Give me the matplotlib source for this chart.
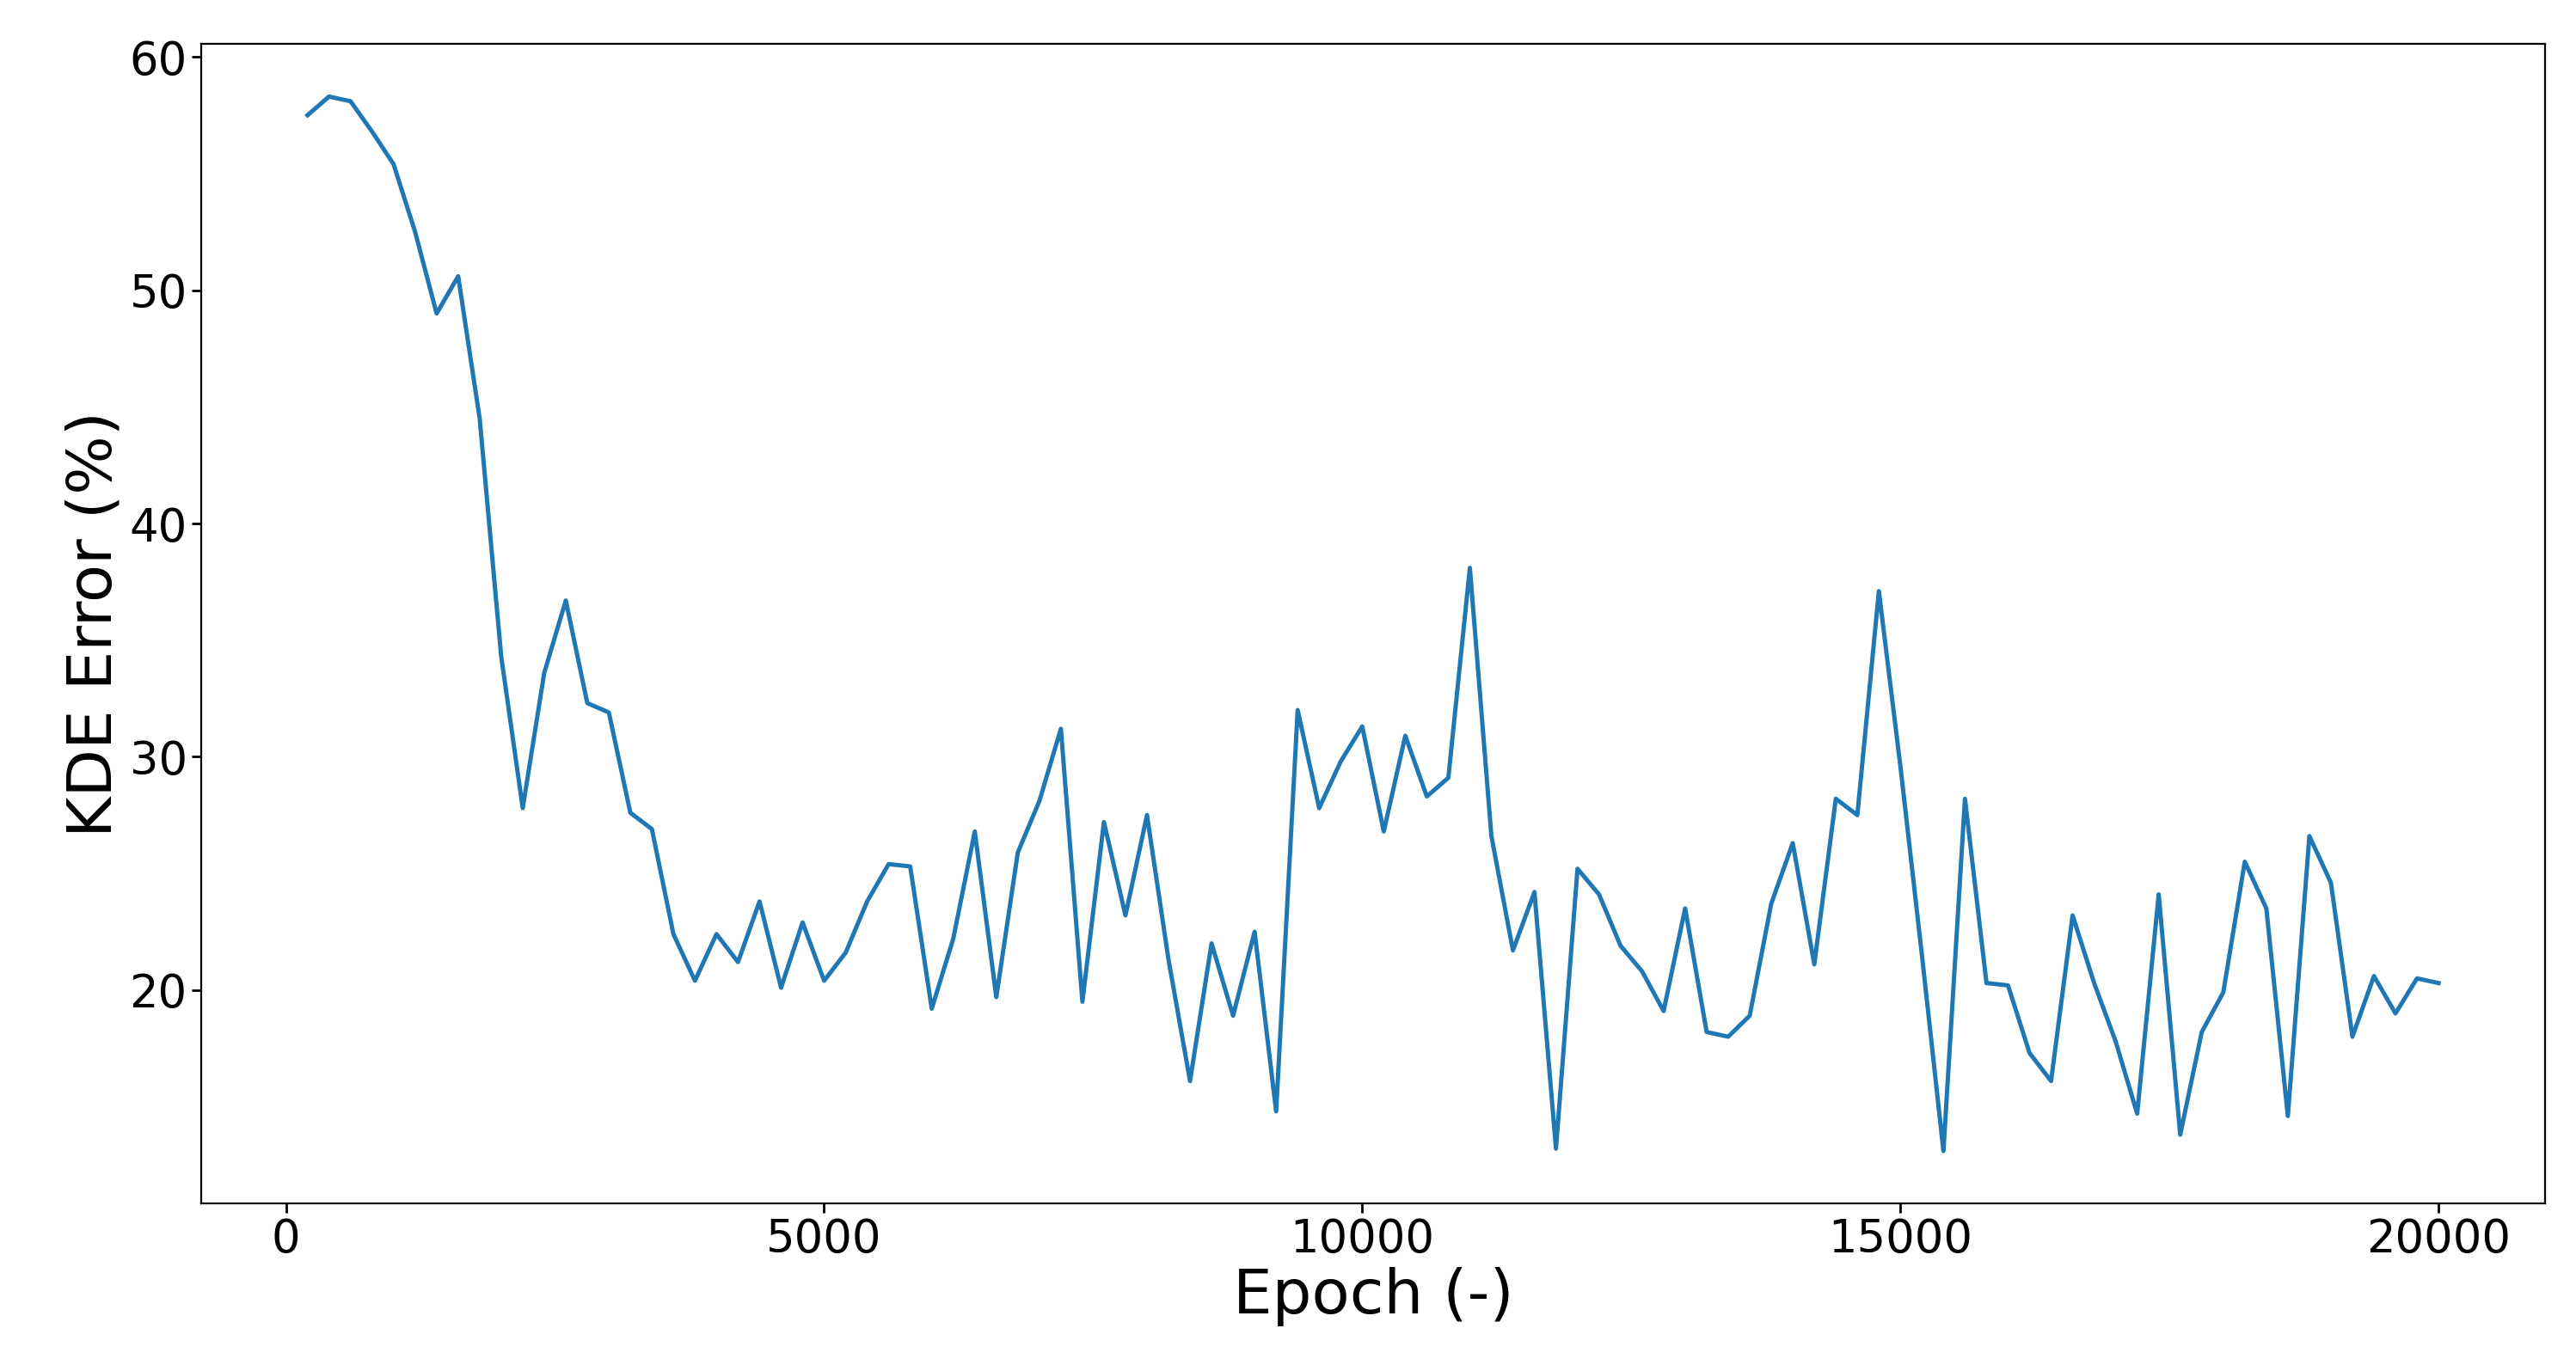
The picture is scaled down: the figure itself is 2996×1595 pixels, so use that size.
import matplotlib
matplotlib.use("Agg")
import matplotlib.pyplot as plt
import numpy as np

epochs = np.arange(200, 20001, 200)
kde_error = [57.5, 58.3, 58.1, 56.8, 55.4, 52.5, 49.0, 50.6, 44.5, 34.3,
             27.8, 33.6, 36.7, 32.3, 31.9, 27.6, 26.9, 22.4, 20.4, 22.4,
             21.2, 23.8, 20.1, 22.9, 20.4, 21.6, 23.8, 25.4, 25.3, 19.2,
             22.2, 26.8, 19.7, 25.9, 28.1, 31.2, 19.5, 27.2, 23.2, 27.5,
             21.3, 16.1, 22.0, 18.9, 22.5, 14.8, 32.0, 27.8, 29.8, 31.3,
             26.8, 30.9, 28.3, 29.1, 38.1, 26.6, 21.7, 24.2, 13.2, 25.2,
             24.1, 21.9, 20.8, 19.1, 23.5, 18.2, 18.0, 18.9, 23.7, 26.3,
             21.1, 28.2, 27.5, 37.1, 29.6, 21.5, 13.1, 28.2, 20.3, 20.2,
             17.3, 16.1, 23.2, 20.3, 17.8, 14.7, 24.1, 13.8, 18.2, 19.9,
             25.5, 23.5, 14.6, 26.6, 24.6, 18.0, 20.6, 19.0, 20.5, 20.3]

fig = plt.figure(figsize=(29.96, 15.95), dpi=100)
ax = fig.add_axes([0.078, 0.122, 0.910, 0.846])
ax.plot(epochs, kde_error, color="#1f77b4", lw=3.6)
ax.set_xlabel("Epoch (-)", fontsize=52)
ax.set_ylabel("KDE Error (%)", fontsize=52)
ax.tick_params(labelsize=38, width=2, length=8)
for s in ax.spines.values():
    s.set_linewidth(1.6)
ax.set_xticks([0, 5000, 10000, 15000, 20000])
ax.set_yticks([20, 30, 40, 50, 60])
fig.savefig("out.png", dpi=100)
